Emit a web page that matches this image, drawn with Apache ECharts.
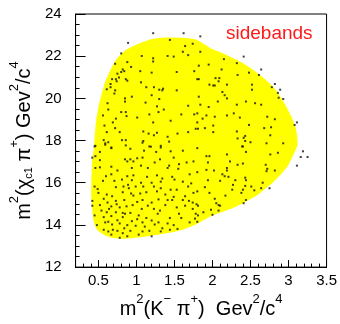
<!DOCTYPE html>
<html><head><meta charset="utf-8">
<script src="https://cdn.jsdelivr.net/npm/echarts@6/dist/echarts.min.js"></script>
<style>html,body{margin:0;padding:0;background:#fff}#c{width:340px;height:324px}</style>
</head><body><div id="c"></div>
<script>
// ---- axis ticks ----
const xMajorTicks = [0.5, 1, 1.5, 2, 2.5, 3, 3.5];
const xMinorTicks = [0.3, 0.4, 0.6, 0.7, 0.8, 0.9, 1.1, 1.2, 1.3, 1.4, 1.6, 1.7, 1.8, 1.9,
  2.1, 2.2, 2.3, 2.4, 2.6, 2.7, 2.8, 2.9, 3.1, 3.2, 3.3, 3.4];
const xRange = [0.2, 3.5];
const yRange = [12, 24];
const yStep = 2;

// ---- kinematic (Dalitz) boundary ----
const boundaryX = [0.439, 0.452, 0.473, 0.502, 0.544, 0.587, 0.650, 0.729, 0.855, 1.027, 1.208, 1.396, 1.648, 1.80,
  1.985, 2.19, 2.404, 2.614, 2.82, 2.946, 3.034, 3.097, 3.118, 3.055, 2.992, 2.908, 2.782, 2.614, 2.404, 2.19,
  1.985, 1.774, 1.573, 1.233, 0.855, 0.691, 0.565, 0.481, 0.439, 0.418, 0.405, 0.418];
const boundaryY = [17.57, 18.25, 19.03, 19.62, 20.23, 20.76, 21.29, 21.82, 22.28, 22.59, 22.81, 22.88, 22.86, 22.77,
  22.36, 22.05, 21.67, 21.14, 20.46, 19.77, 19.16, 18.57, 17.80, 17.26, 16.81, 16.43, 15.97, 15.48, 15.03, 14.69,
  14.42, 14.01, 13.74, 13.51, 13.34, 13.38, 13.55, 13.78, 14.15, 14.75, 15.51, 17.03];

// ---- events (sidebands) ----
const events = [
[1.22,23.09],[1.62,23.09],[0.89,22.63],[1.44,22.77],[1.64,22.48],[1.74,22.59],[1.61,22.21],[0.80,22.13],[1.07,22.01],[1.22,21.90],
[1.41,22.01],[1.49,21.98],[1.68,22.05],[0.72,21.64],[0.88,21.72],[0.93,21.49],[1.22,21.75],[0.75,21.17],[0.82,21.37],[0.80,21.25],
[0.84,21.29],[1.05,21.29],[1.20,21.22],[0.73,20.91],[0.77,20.99],[0.86,20.91],[0.88,20.84],[1.53,21.25],[1.76,21.29],[0.68,20.91],
[0.66,20.68],[0.66,20.53],[0.74,20.81],[1.06,20.76],[1.13,20.53],[1.23,20.53],[1.30,20.41],[1.35,20.46],[1.34,20.38],[1.53,20.38],
[1.80,20.91],[0.61,20.43],[0.72,20.38],[0.71,20.23],[0.94,20.08],[1.20,20.15],[1.12,19.80],[0.85,20.00],[0.85,19.85],[1.30,19.97],
[0.62,19.77],[0.56,19.19],[0.63,19.47],[0.80,19.35],[0.86,19.35],[0.87,19.16],[0.73,19.04],[1.01,19.09],[1.17,19.24],[1.27,19.62],
[1.29,19.35],[1.36,19.47],[1.59,19.24],[1.68,19.65],[1.76,19.24],[0.69,18.86],[0.58,18.71],[0.61,18.40],[0.72,18.59],[0.78,18.40],
[0.81,18.02],[0.86,18.02],[1.09,18.43],[1.16,18.33],[1.23,18.25],[1.27,18.37],[1.22,18.86],[1.45,18.94],[1.54,18.33],[1.41,18.18],
[1.43,17.95],[1.68,18.40],[1.78,18.56],[1.80,18.86],[0.57,18.02],[0.59,17.87],[0.63,17.92],[1.09,17.98],[1.08,17.90],[1.32,17.75],
[1.19,17.71],[0.67,17.64],[0.46,17.75],
[1.84,22.94],[1.84,22.21],[2.41,21.98],[2.15,21.86],[2.32,21.67],[1.82,21.55],[1.95,21.60],[2.12,21.37],[2.64,21.37],[2.48,21.22],
[2.61,21.11],[2.33,21.11],[1.82,20.91],[2.04,20.96],[2.09,20.96],[2.08,20.81],[1.96,20.65],[2.01,20.61],[2.03,20.61],[2.19,20.65],
[2.52,20.65],[2.82,20.68],[2.78,20.53],[2.89,20.41],[2.52,20.41],[2.13,20.30],[2.16,20.15],[2.86,20.26],[2.87,20.03],[2.93,19.97],
[1.82,20.08],[2.19,20.00],[2.07,19.85],[1.84,19.70],[1.95,19.59],[2.32,19.70],[2.44,19.85],[2.56,19.77],[2.64,19.70],[1.80,19.29],
[1.92,19.19],[1.87,19.04],[2.03,19.13],[2.19,19.19],[2.28,19.29],[2.36,19.09],[2.72,19.13],[2.82,19.01],[3.11,18.86],[3.08,18.74],
[2.01,18.71],[1.90,18.59],[1.81,18.56],[2.01,18.40],[2.48,18.74],[2.68,18.59],[2.77,18.63],[2.32,18.43],[2.33,18.10],[2.43,18.22],
[2.41,18.13],[2.43,17.98],[2.50,17.92],[2.76,18.25],[2.93,17.87],[2.71,17.87],[2.39,17.72],
[0.45,17.72],[0.59,17.80],[0.67,17.67],[0.86,17.77],[0.92,17.61],[1.17,17.72],[1.32,17.67],[1.45,17.49],[1.61,17.52],[1.80,17.64],
[0.52,17.46],[0.46,17.26],[0.42,17.19],[1.10,17.52],[1.26,17.46],[0.52,17.07],[0.85,17.11],[0.88,17.01],[0.92,17.11],[0.96,17.01],
[1.01,17.16],[1.08,17.19],[1.31,17.11],[1.49,17.19],[1.56,16.88],[1.66,16.96],[1.75,17.01],[1.24,16.96],[0.46,16.70],[0.52,16.73],
[0.67,16.76],[0.75,16.58],[0.94,16.70],[1.06,16.81],[1.15,16.70],[1.43,16.81],[1.41,16.70],[1.55,16.66],[1.70,16.40],[1.80,16.50],
[0.67,16.40],[0.60,16.31],[0.88,16.31],[0.96,16.35],[1.14,16.28],[1.27,16.35],[1.34,16.20],[1.20,16.00],[1.47,16.28],[1.50,16.15],
[0.56,16.09],[0.71,16.09],[0.81,16.15],[0.94,16.12],[1.06,16.00],[1.32,16.05],[1.61,16.05],[1.72,15.97],[0.45,15.82],[0.49,15.70],
[0.73,15.79],[0.83,15.82],[0.89,15.90],[0.90,15.74],[0.99,15.82],[1.09,15.82],[1.23,15.82],[1.32,15.74],[1.45,15.67],[1.53,15.67],
[1.68,15.82],[1.80,15.59],[0.50,15.52],[0.61,15.44],[0.68,15.36],[0.82,15.55],[0.93,15.49],[0.96,15.39],[1.05,15.49],[1.13,15.55],
[1.27,15.59],[1.38,15.44],[1.49,15.33],[1.64,15.36],[1.75,15.52],[0.42,15.14],[0.57,15.24],[0.62,15.06],[0.73,15.14],[0.74,14.98],
[0.84,15.18],[1.01,15.09],[1.08,15.18],[1.20,15.06],[1.29,15.21],[1.41,15.18],[1.47,15.18],[1.61,15.18],[1.69,15.14],[1.74,15.06],
[1.79,14.98],[0.42,14.91],[0.52,14.94],[0.64,14.76],[0.67,14.88],[0.78,14.83],[0.87,14.88],[0.95,14.94],[1.07,14.76],[1.15,14.91],
[1.23,14.76],[1.31,14.68],[1.38,14.94],[1.53,14.83],[1.64,14.91],[1.74,14.76],[0.54,14.68],[0.61,14.60],[0.73,14.60],[0.82,14.57],
[0.85,14.53],[0.92,14.57],[1.03,14.45],[1.13,14.33],[1.28,14.53],[1.44,14.33],[1.56,14.53],[1.78,14.53],[0.45,14.45],[0.57,14.37],
[0.67,14.42],[0.75,14.22],[0.82,14.37],[0.94,14.18],[1.01,14.27],[1.08,14.12],[1.20,14.21],[1.29,14.12],[1.41,14.07],[1.49,13.99],
[1.59,14.33],[1.70,14.12],[1.80,14.15],[0.48,13.99],[0.59,14.12],[0.63,14.15],[0.68,14.02],[0.78,14.07],[0.88,13.99],[0.99,13.96],
[1.11,13.92],[1.24,14.02],[1.34,13.84],[0.57,13.77],[0.63,13.69],[0.69,13.77],[0.75,13.72],[0.84,13.84],[0.82,13.61],[0.92,13.72],
[1.08,13.69],[1.17,13.72],[1.32,13.69],[1.44,13.77],[1.54,13.81],[0.67,13.54],[0.78,13.39],[0.88,13.46],[1.03,13.54],[1.20,13.46],
[2.40,17.72],[2.44,17.46],[2.76,17.34],[2.86,17.42],[3.19,17.49],[3.16,17.22],[3.25,17.22],[3.11,16.81],[1.92,17.26],[1.96,17.26],
[2.19,17.34],[1.94,16.96],[2.23,17.01],[2.33,16.85],[2.40,16.91],[2.70,16.85],[2.72,16.66],[2.71,16.55],[2.82,16.58],[1.92,16.61],
[2.02,16.58],[2.19,16.70],[2.19,16.58],[2.13,16.40],[2.16,16.31],[2.21,16.28],[1.94,16.12],[2.10,16.09],[2.30,16.12],[2.43,16.24],
[2.44,16.12],[2.66,16.00],[2.27,15.90],[1.90,15.79],[1.96,15.52],[2.17,15.39],[2.26,15.67],[2.40,15.67],[2.43,15.85],[2.38,15.52],
[2.51,15.82],[2.55,15.64],[2.64,15.74],[2.75,15.74],[2.03,15.24],[2.05,15.03],[2.08,14.94],[2.10,14.91],[2.44,15.18],[2.41,15.03],
[1.81,14.91],[1.88,14.60],[1.98,14.72],[2.08,14.68],[2.00,14.48],[1.81,14.45],[1.77,14.30]
];

const FONT = 'Liberation Sans';
const titleRich = {
  t:  {fontFamily: FONT, fontSize: 20, lineHeight: 26, color: '#000', verticalAlign: 'bottom'},
  sp: {fontFamily: FONT, fontSize: 13, lineHeight: 26, color: '#000', verticalAlign: 'top'},
  sb: {fontFamily: FONT, fontSize: 11, lineHeight: 22, color: '#000', verticalAlign: 'bottom'}
};

const chart = echarts.init(document.getElementById('c'), null, {renderer: 'canvas'});
chart.setOption({
  animation: false,
  backgroundColor: '#fff',
  grid: {left: 65, right: 13, top: 14, bottom: 47, show: true, borderColor: '#000', borderWidth: 1, backgroundColor: 'transparent'},
  xAxis: [{
    type: 'value', min: xRange[0], max: xRange[1], position: 'bottom',
    splitLine: {show: false},
    axisLine: {show: true, onZero: false, lineStyle: {color: '#000', width: 1}},
    axisTick: {show: true, inside: true, length: 7, customValues: xMajorTicks, lineStyle: {color: '#000'}},
    axisLabel: {customValues: xMajorTicks, color: '#000', fontFamily: FONT, fontSize: 15, margin: 6},
    name: '{t|m}{sp|2}{t|(K}{sp|−}{t| π}{sp|+}{t|)  Gev}{sp|2}{t|/c}{sp|4}',
    nameLocation: 'middle', nameGap: 10,
    nameTextStyle: {rich: titleRich}
  }, {
    type: 'value', min: xRange[0], max: xRange[1], position: 'bottom',
    splitLine: {show: false},
    axisLine: {show: false},
    axisTick: {show: true, inside: true, length: 3.5, customValues: xMinorTicks, lineStyle: {color: '#000'}},
    axisLabel: {show: false}
  }],
  yAxis: {
    type: 'value', min: yRange[0], max: yRange[1], interval: yStep,
    splitLine: {show: false},
    axisLine: {show: true, onZero: false, lineStyle: {color: '#000', width: 1}},
    axisTick: {show: true, inside: true, length: 10, lineStyle: {color: '#000'}},
    minorTick: {show: true, splitNumber: 4, length: 4, lineStyle: {color: '#000'}},
    axisLabel: {color: '#000', fontFamily: FONT, fontSize: 15, margin: 14},
    name: '{t|m}{sp|2}{t|(χ}{sb|c1}{t| π}{sp|+}{t|) Gev}{sp|2}{t|/c}{sp|4}',
    nameLocation: 'middle', nameGap: 30, nameRotate: 90,
    nameTextStyle: {rich: titleRich}
  },
  graphic: [{
    type: 'text', left: 226, top: 24,
    style: {text: 'sidebands', fill: '#ff1a1a', font: '19px "Liberation Sans"'}
  }],
  series: [{
    type: 'custom',
    coordinateSystem: 'cartesian2d',
    data: boundaryX.map((x, i) => [x, boundaryY[i]]),
    encode: {x: 0, y: 1},
    silent: true,
    z: 1,
    renderItem: function (params, api) {
      if (params.dataIndex !== 0) return null;
      const pts = boundaryX.map((x, i) => api.coord([x, boundaryY[i]]));
      return {type: 'polygon', shape: {points: pts, smooth: 0.2}, style: {fill: '#ffff00', stroke: null}};
    }
  }, {
    type: 'scatter',
    data: events,
    symbol: 'rect',
    symbolSize: 2,
    itemStyle: {color: '#111'},
    z: 3,
    silent: true
  }]
});
</script>
</body></html>
